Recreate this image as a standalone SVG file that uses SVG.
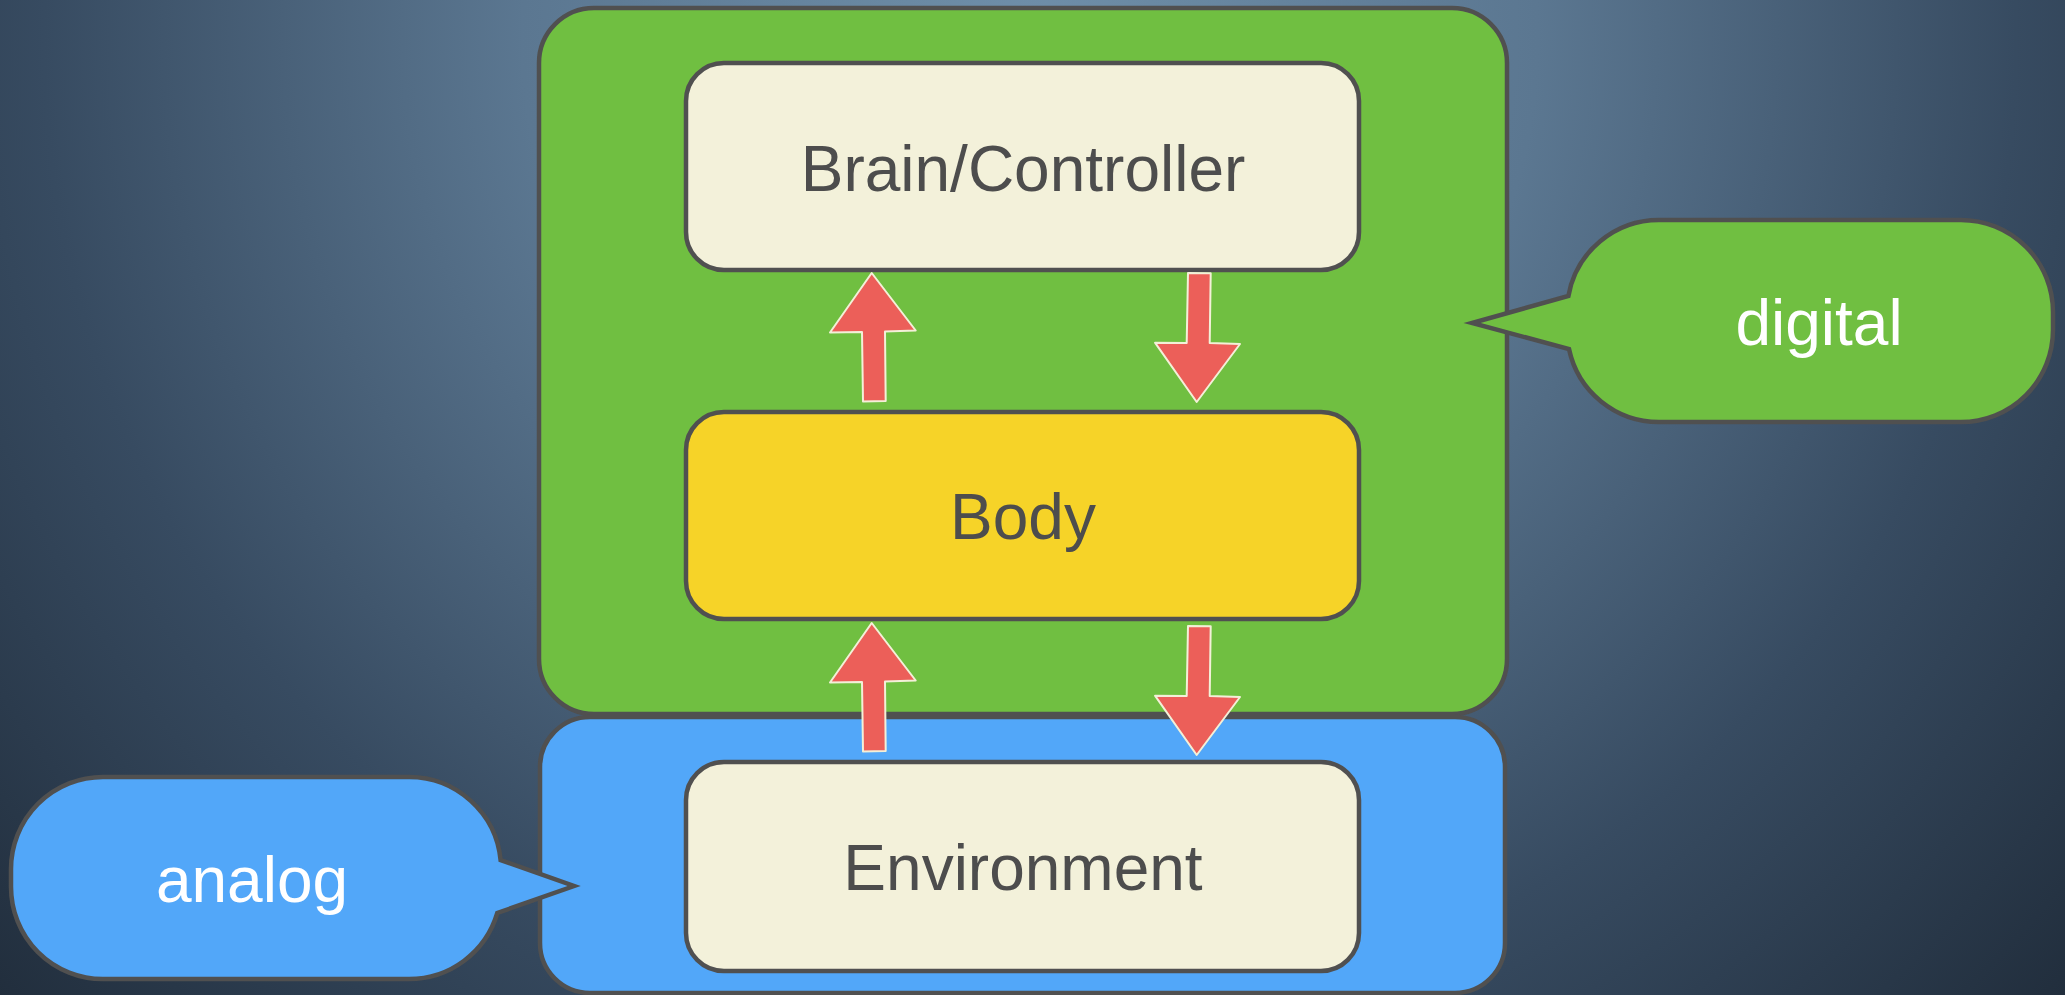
<svg xmlns="http://www.w3.org/2000/svg" width="2065" height="995" viewBox="0 0 2065 995">
  <defs>
    <radialGradient id="bg" gradientUnits="userSpaceOnUse" cx="1030" cy="40" r="1450">
      <stop offset="0" stop-color="#6f8fa9"/>
      <stop offset="0.35" stop-color="#5b7791"/>
      <stop offset="0.68" stop-color="#374b61"/>
      <stop offset="1" stop-color="#1f2b39"/>
    </radialGradient>
    <style>
      .frame { stroke: #505050; stroke-width: 4.5; }
      .box { fill: #f3f1da; stroke: #505050; stroke-width: 4.5; }
      .label { font-family: "Liberation Sans", Arial, sans-serif; font-size: 64px; text-anchor: middle; }
      .dark { fill: #4d4d4d; }
      .light { fill: #ffffff; }
      .arrow { fill: #ec5f59; stroke: #f3f0d8; stroke-width: 2; stroke-linejoin: round; }
    </style>
  </defs>

  <rect width="2065" height="995" fill="url(#bg)"/>

  <!-- domain regions -->
  <g id="digital-region">
    <rect class="frame" x="539" y="8" width="968" height="706" rx="55" ry="55" fill="#70bf41"/>
  </g>
  <g id="analog-region">
    <rect class="frame" x="540" y="717" width="965" height="276" rx="50" ry="50" fill="#52a7f9"/>
  </g>

  <!-- blocks -->
  <g id="brain">
    <rect class="box" x="686" y="63" width="673" height="207" rx="38" ry="38"/>
    <text class="label dark" x="1023" y="191">Brain/Controller</text>
  </g>
  <g id="body">
    <rect class="box" x="686" y="412" width="673" height="207" rx="38" ry="38" fill="#f6d328" style="fill:#f6d328"/>
    <text class="label dark" x="1023" y="539">Body</text>
  </g>
  <g id="environment">
    <rect class="box" x="686" y="762" width="673" height="209" rx="38" ry="38"/>
    <text class="label dark" x="1023" y="890">Environment</text>
  </g>

  <!-- callouts -->
  <g id="digital-callout">
    <path class="frame" fill="#70bf41" d="M1659,220 H1961 A92,92 0 0 1 2053,312 V330 A92,92 0 0 1 1961,422 H1659 A92,92 0 0 1 1569,349 L1472,323 L1568.4,296 A92,92 0 0 1 1659,220 Z"/>
    <text class="label light" x="1819" y="345">digital</text>
  </g>
  <g id="analog-callout">
    <path class="frame" fill="#52a7f9" d="M103,777 H409 A92,92 0 0 1 500.6,860 L574,886 L497.3,913 A92,92 0 0 1 409,979 H103 A92,92 0 0 1 11,887 V869 A92,92 0 0 1 103,777 Z"/>
    <text class="label light" x="252" y="902">analog</text>
  </g>

  <!-- connectors -->
  <g id="connectors">
    <polygon class="arrow" points="871.7,273 915.7,330.5 885,331.5 885.7,401 863,401.5 862,332 830,332.5"/>
    <polygon class="arrow" points="1188,273 1210.7,273.3 1209.7,343 1240,344 1196.7,402 1155,342.7 1186.7,343"/>
    <polygon class="arrow" points="871.7,623 915.7,680.5 885,681.5 885.7,751 863,751.5 862,682 830,682.5"/>
    <polygon class="arrow" points="1188,626 1210.7,626.3 1209.7,696 1240,697 1196.7,755 1155,695.7 1186.7,696"/>
  </g>
</svg>
